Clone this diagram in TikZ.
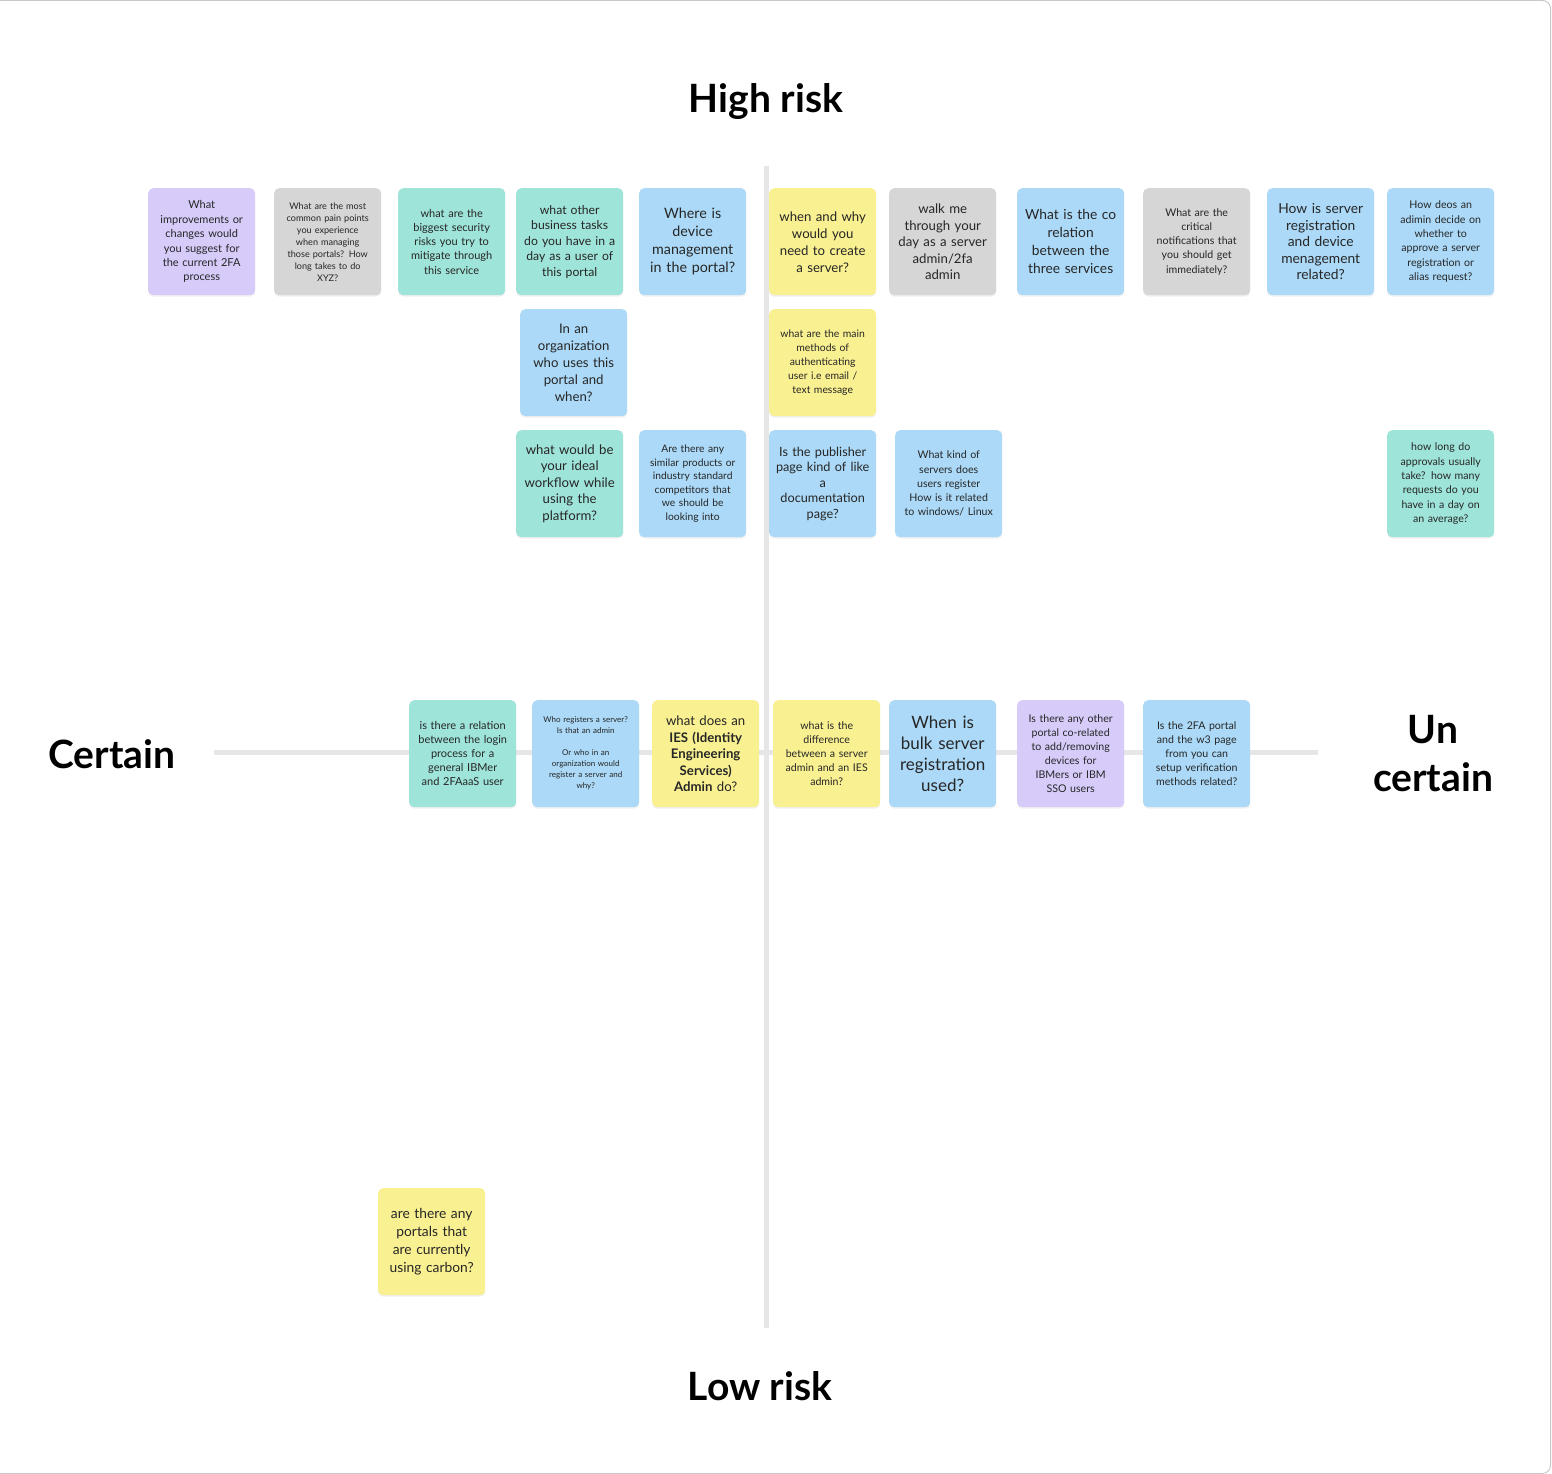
\documentclass[tikz,border=0pt]{standalone}
\usepackage{fontspec}
\setmainfont{Lato}
\usetikzlibrary{shadows}
\definecolor{npurple}{HTML}{D6CBF9}
\definecolor{ngray}{HTML}{D6D6D6}
\definecolor{nteal}{HTML}{9FE4D9}
\definecolor{nblue}{HTML}{ABD9F7}
\definecolor{nyellow}{HTML}{F9F091}
\definecolor{axisgray}{HTML}{E6E6E6}
\definecolor{framegray}{HTML}{C8C8C8}
\newcommand\fsz[2]{\fontsize{#1}{#2}\selectfont}
\hyphenpenalty=10000 \exhyphenpenalty=10000
\tikzset{
  note/.style={rounded corners=5pt, minimum width=107pt, minimum height=107pt,
    text width=106pt, align=center, inner sep=0pt, anchor=north west,
    text=black!85, drop shadow={opacity=0.12, shadow xshift=0pt, shadow yshift=-1.5pt}},
  np/.style={note, fill=npurple},
  ng/.style={note, fill=ngray},
  nt/.style={note, fill=nteal},
  nb/.style={note, fill=nblue},
  ny/.style={note, fill=nyellow},
  axisline/.style={line width=5pt, draw=axisgray},
  title/.style={font=\bfseries\fsz{39}{48}, text=black, align=center}
}
\begin{document}
\begin{tikzpicture}[x=1pt,y=-1pt]
\useasboundingbox (0,0) rectangle (1552,1474);
\begin{scope}
\clip (0,0) rectangle (1552,1474);
\draw[framegray, line width=1pt, rounded corners=8pt] (-20,0.5) rectangle (1550.5,1473.5);
\end{scope}
% axes
\coordinate (vt) at (766,166);
\coordinate (vb) at (766,1328);
\coordinate (hl) at (214,752);
\coordinate (hr) at (1318,752);
\draw[axisline] (hl) -- (hr);
\draw[axisline] (vt) -- (vb);
% titles
\node[title] (high) at (766,102) {High risk};
\node[title] (low) at (760,1386) {Low risk};
\node[title] (cert) at (112,754) {Certain};
\node[title] (uncert) at (1433,754) {Un\\certain};
% row 1
\node[np, font=\fsz{11}{14.4}] (a1) at (148,188) {What\\improvements or\\changes would\\you suggest for\\the current 2FA\\process};
\node[ng, font=\fsz{9.1}{12}] (a2) at (274,188) {What are the most\\common pain points\\you experience\\when managing\\those portals? How\\long takes to do\\XYZ?};
\node[nt, font=\fsz{11}{14.2}] (a3) at (398,188) {what are the\\biggest security\\risks you try to\\mitigate through\\this service};
\node[nt, font=\fsz{12.2}{15.5}] (a4) at (516,188) {what other\\business tasks\\do you have in a\\day as a user of\\this portal};
\node[nb, font=\fsz{14.3}{18}] (a5) at (639,188) {Where is\\device\\management\\in the portal?};
\node[ny, font=\fsz{13.2}{17}] (a6) at (769,188) {when and why\\would you\\need to create\\a server?};
\node[ng, font=\fsz{13.2}{16.5}] (a7) at (889,188) {walk me\\through your\\day as a server\\admin/2fa\\admin};
\node[nb, font=\fsz{13.8}{18}] (a8) at (1017,188) {What is the co\\relation\\between the\\three services};
\node[ng, font=\fsz{10.6}{14.2}] (a9) at (1143,188) {What are the\\critical\\notifications that\\you should get\\immediately?};
\node[nb, font=\fsz{13.8}{16.5}] (a10) at (1267,188) {How is server\\registration\\and device\\menagement\\related?};
\node[nb, font=\fsz{10.6}{14.4}] (a11) at (1387,188) {How deos an\\adimin decide on\\whether to\\approve a server\\registration or\\alias request?};
% row 2
\node[nb, font=\fsz{13.2}{17}] (b1) at (520,309) {In an\\organization\\who uses this\\portal and\\when?};
\node[ny, font=\fsz{10.4}{14}] (b2) at (769,309) {what are the main\\methods of\\authenticating\\user i.e email /\\text message};
% row 3
\node[nt, font=\fsz{13.2}{16.5}] (c1) at (516,430) {what would be\\your ideal\\workflow while\\using the\\platform?};
\node[nb, font=\fsz{10.3}{13.5}] (c2) at (639,430) {Are there any\\similar products or\\industry standard\\competitors that\\we should be\\looking into};
\node[nb, font=\fsz{12.7}{15.5}] (c3) at (769,430) {Is the publisher\\page kind of like\\a\\documentation\\page?};
\node[nb, font=\fsz{10.6}{14.3}] (c4) at (895,430) {What kind of\\servers does\\users register\\How is it related\\to windows/ Linux};
\node[nt, font=\fsz{10.6}{14.4}] (c5) at (1387,430) {how long do\\approvals usually\\take? how many\\requests do you\\have in a day on\\an average?};
% row 4
\node[nt, font=\fsz{11}{14}] (d1) at (409,700) {is there a relation\\between the login\\process for a\\general IBMer\\and 2FAaaS user};
\node[nb, font=\fsz{8}{11}] (d2) at (532,700) {Who registers a server?\\Is that an admin\\[11pt]Or who in an\\organization would\\register a server and\\why?};
\node[ny, font=\fsz{13.2}{16.5}] (d3) at (652,700) {what does an\\\textbf{IES (Identity}\\\textbf{Engineering}\\\textbf{Services)}\\\textbf{Admin} do?};
\node[ny, font=\fsz{10.6}{14}] (d4) at (773,700) {what is the\\difference\\between a server\\admin and an IES\\admin?};
\node[nb, font=\fsz{17}{21}] (d5) at (889,700) {When is\\bulk server\\registration\\used?};
\node[np, font=\fsz{10.6}{14}] (d6) at (1017,700) {Is there any other\\portal co-related\\to add/removing\\devices for\\IBMers or IBM\\SSO users};
\node[nb, font=\fsz{10.6}{14}] (d7) at (1143,700) {Is the 2FA portal\\and the w3 page\\from you can\\setup verification\\methods related?};
% bottom
\node[ny, font=\fsz{13.8}{18}] (e1) at (378,1188) {are there any\\portals that\\are currently\\using carbon?};
\end{tikzpicture}
\end{document}
